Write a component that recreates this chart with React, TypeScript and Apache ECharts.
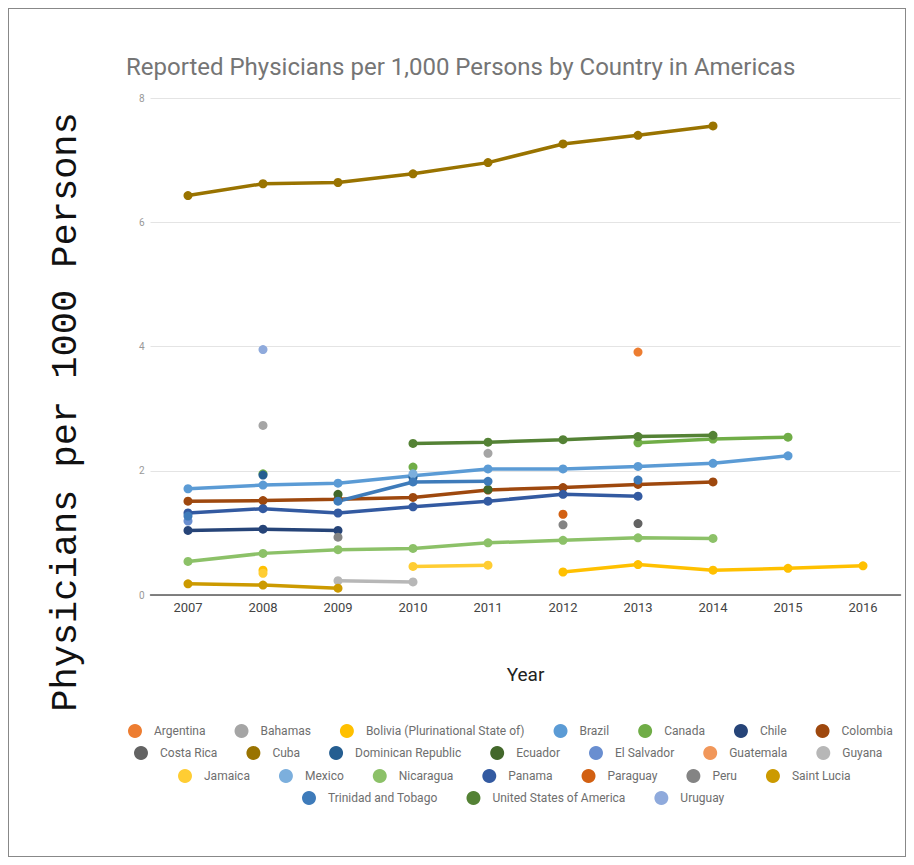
import React, { useEffect, useRef } from "react";
import * as echarts from "echarts";

const years = ["2007", "2008", "2009", "2010", "2011", "2012", "2013", "2014", "2015", "2016"];
const yTicks = [0, 2, 4, 6, 8];

const argentina = [null, null, null, null, null, null, 3.91, null, null, null];
const bahamas = [null, 2.73, null, null, 2.28, null, null, null, null, null];
const bolivia = [null, 0.4, null, null, null, 0.37, 0.49, 0.4, 0.43, 0.47];
const brazil = [1.71, 1.77, 1.8, 1.92, 2.03, 2.03, 2.07, 2.12, 2.24, null];
const canada = [null, 1.95, null, 2.06, null, null, 2.45, 2.51, 2.54, null];
const chile = [1.04, 1.06, 1.04, null, null, null, null, null, null, null];
const colombia = [1.51, 1.52, 1.54, 1.57, 1.69, 1.73, 1.78, 1.82, null, null];
const costaRica = [null, null, null, null, null, null, 1.15, null, null, null];
const cuba = [6.43, 6.62, 6.64, 6.78, 6.96, 7.26, 7.4, 7.55, null, null];
const dominicanRepublic = [null, 1.93, null, 1.89, null, null, null, null, null, null];
const ecuador = [null, null, 1.62, null, 1.7, null, null, null, null, null];
const elSalvador = [1.19, null, null, null, null, null, null, null, null, null];
const guatemala = [null, null, null, null, null, null, null, null, null, null];
const guyana = [null, null, 0.23, 0.21, null, null, null, null, null, null];
const jamaica = [null, 0.35, null, 0.46, 0.48, null, null, null, null, null];
const mexico = [null, null, null, 1.95, null, null, null, null, null, null];
const nicaragua = [0.54, 0.67, 0.73, 0.75, 0.84, 0.88, 0.92, 0.91, null, null];
const panama = [1.32, 1.39, 1.32, 1.42, 1.51, 1.62, 1.59, null, null, null];
const paraguay = [null, null, null, null, null, 1.3, null, null, null, null];
const peru = [null, null, 0.93, null, null, 1.13, null, null, null, null];
const saintLucia = [0.18, 0.16, 0.11, null, null, null, null, null, null, null];
const trinidad = [1.27, null, 1.51, 1.82, 1.83, null, 1.85, null, null, null];
const usa = [null, null, null, 2.44, 2.46, 2.5, 2.55, 2.57, null, null];
const uruguay = [null, 3.95, null, null, null, null, null, null, null, null];

const countries = [
  "Argentina", "Bahamas", "Bolivia (Plurinational State of)", "Brazil", "Canada", "Chile", "Colombia",
  "Costa Rica", "Cuba", "Dominican Republic", "Ecuador", "El Salvador", "Guatemala", "Guyana",
  "Jamaica", "Mexico", "Nicaragua", "Panama", "Paraguay", "Peru", "Saint Lucia",
  "Trinidad and Tobago", "United States of America", "Uruguay",
];
const seriesValues = [
  argentina, bahamas, bolivia, brazil, canada, chile, colombia,
  costaRica, cuba, dominicanRepublic, ecuador, elSalvador, guatemala, guyana,
  jamaica, mexico, nicaragua, panama, paraguay, peru, saintLucia,
  trinidad, usa, uruguay,
];
const colors = [
  "#ED7D31", "#A5A5A5", "#FFC000", "#5B9BD5", "#70AD47", "#264478", "#9E480E",
  "#636363", "#997300", "#255E91", "#43682B", "#698ED0", "#F1975A", "#B7B7B7",
  "#FFCD33", "#7CAFDD", "#8CC168", "#335AA1", "#D26012", "#848484", "#CC9A00",
  "#3E7BBA", "#548235", "#8FAADC",
];

const legendRows = [
  countries.slice(0, 7),
  countries.slice(7, 14),
  countries.slice(14, 21),
  countries.slice(21, 24),
];
const legendLefts = [119, 125, 169, 293];
const legendTops = [715, 737, 760, 782];

export default function App() {
  const ref = useRef<HTMLDivElement>(null);
  useEffect(() => {
    if (!ref.current) return;
    const chart = echarts.init(ref.current, null, { renderer: "svg" });
    chart.setOption({
      animation: false,
      color: colors,
      title: {
        text: "Reported Physicians per 1,000 Persons by Country in Americas",
        left: 117,
        top: 46,
        padding: 0,
        textStyle: { fontFamily: "Roboto", fontSize: 24, fontWeight: "normal", color: "#757575" },
      },
      legend: legendRows.map((row, i) => ({
        data: row,
        left: legendLefts[i],
        top: legendTops[i],
        orient: "horizontal",
        icon: "circle",
        itemWidth: 14,
        itemHeight: 14,
        itemGap: 29,
        padding: 0,
        textStyle: { fontFamily: "Roboto", fontSize: 12, color: "#6e6e6e", padding: [0, 0, 0, 7] },
      })),
      graphic: [
        {
          type: "text",
          x: 57,
          y: 403,
          rotation: Math.PI / 2,
          style: {
            text: "Physicians per 1000 Persons",
            font: "37px 'Liberation Mono', monospace",
            fill: "#111",
            align: "center",
            verticalAlign: "middle",
          },
        },
      ],
      grid: { left: 141.5, top: 89, width: 750, height: 497 },
      xAxis: {
        type: "category",
        data: years,
        boundaryGap: true,
        name: "Year",
        nameLocation: "middle",
        nameGap: 70,
        nameTextStyle: { fontFamily: "Roboto", fontSize: 19, color: "#222" },
        axisLine: { lineStyle: { color: "#5a5a5a", width: 1.5 } },
        axisTick: { show: false },
        axisLabel: { fontFamily: "Roboto", fontSize: 13, color: "#444", margin: 6 },
      },
      yAxis: {
        type: "value",
        min: yTicks[0],
        max: yTicks[yTicks.length - 1],
        interval: 2,
        axisLine: { show: false },
        axisTick: { show: false },
        axisLabel: { fontFamily: "Roboto", fontSize: 10, color: "#999", margin: 6 },
        splitLine: { lineStyle: { color: "#e4e4e4", width: 1 } },
      },
      series: countries.map((name, i) => ({
        name,
        type: "line",
        data: seriesValues[i],
        symbol: "circle",
        symbolSize: 9,
        showSymbol: true,
        showAllSymbol: true,
        connectNulls: false,
        lineStyle: { width: 3.5 },
        itemStyle: { color: colors[i] },
      })),
    });
    return () => chart.dispose();
  }, []);
  return (
    <div style={{ width: 898, height: 849, border: "1px solid #888", boxSizing: "border-box" }}>
      <div ref={ref} style={{ width: 896, height: 847 }} />
    </div>
  );
}
